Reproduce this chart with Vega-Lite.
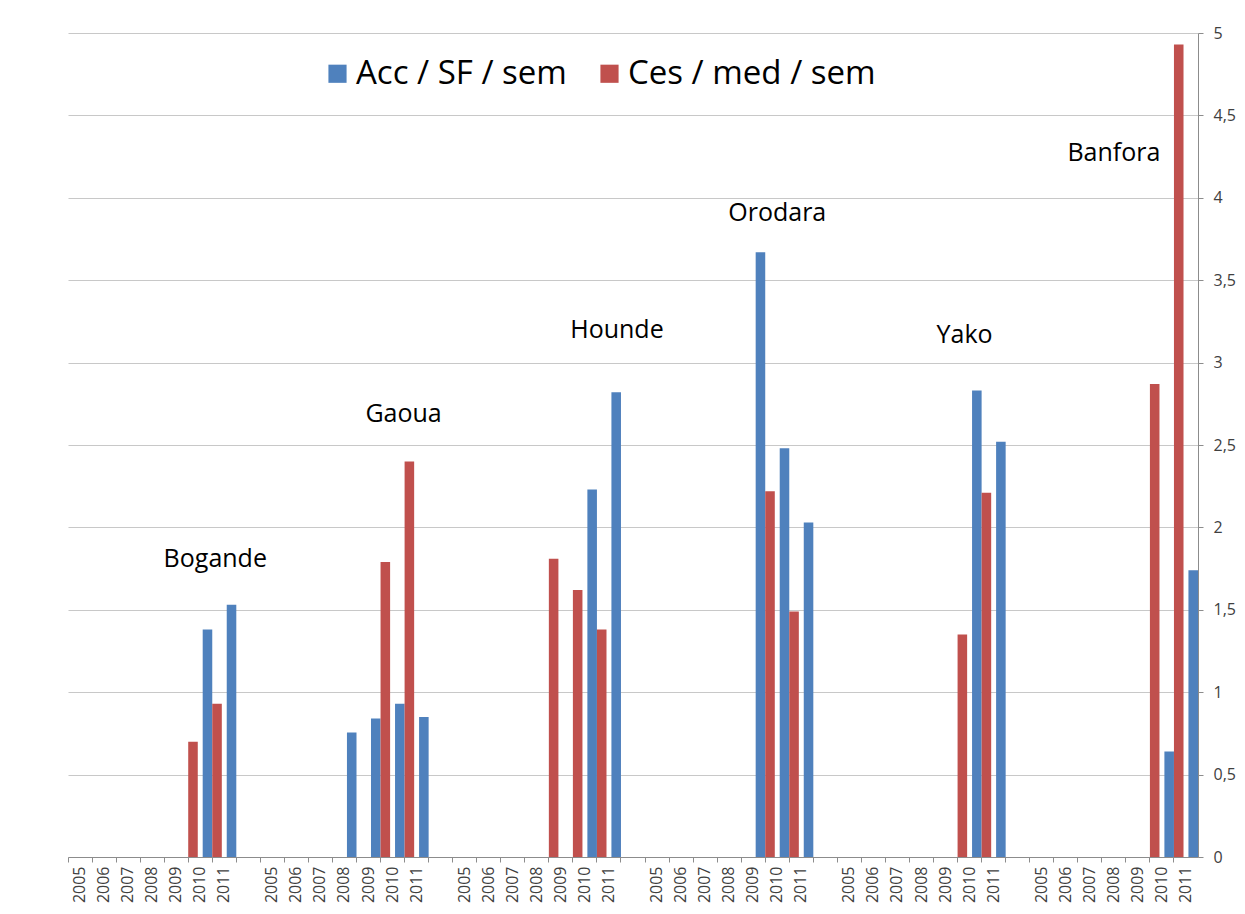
{
  "$schema": "https://vega.github.io/schema/vega-lite/v6.json",
  "width": 1130,
  "height": 824,
  "autosize": {"type": "none"},
  "padding": {"left": 68, "top": 33, "right": 47, "bottom": 57},
  "background": "white",
  "config": {"view": {"stroke": null}, "font": "Open Sans"},
  "datasets": {
    "bars": [
      {"cat": "Bogande 2010", "series": "Ces / med / sem", "value": 0.70},
      {"cat": "Bogande 2010", "series": "Acc / SF / sem", "value": 1.38},
      {"cat": "Bogande 2011", "series": "Ces / med / sem", "value": 0.93},
      {"cat": "Bogande 2011", "series": "Acc / SF / sem", "value": 1.53},
      {"cat": "Gaoua 2008", "series": "Acc / SF / sem", "value": 0.755},
      {"cat": "Gaoua 2009", "series": "Acc / SF / sem", "value": 0.84},
      {"cat": "Gaoua 2010", "series": "Ces / med / sem", "value": 1.79},
      {"cat": "Gaoua 2010", "series": "Acc / SF / sem", "value": 0.93},
      {"cat": "Gaoua 2011", "series": "Ces / med / sem", "value": 2.40},
      {"cat": "Gaoua 2011", "series": "Acc / SF / sem", "value": 0.85},
      {"cat": "Hounde 2009", "series": "Ces / med / sem", "value": 1.81},
      {"cat": "Hounde 2010", "series": "Ces / med / sem", "value": 1.62},
      {"cat": "Hounde 2010", "series": "Acc / SF / sem", "value": 2.23},
      {"cat": "Hounde 2011", "series": "Ces / med / sem", "value": 1.38},
      {"cat": "Hounde 2011", "series": "Acc / SF / sem", "value": 2.82},
      {"cat": "Orodara 2009", "series": "Acc / SF / sem", "value": 3.67},
      {"cat": "Orodara 2010", "series": "Ces / med / sem", "value": 2.22},
      {"cat": "Orodara 2010", "series": "Acc / SF / sem", "value": 2.48},
      {"cat": "Orodara 2011", "series": "Ces / med / sem", "value": 1.49},
      {"cat": "Orodara 2011", "series": "Acc / SF / sem", "value": 2.03},
      {"cat": "Yako 2010", "series": "Ces / med / sem", "value": 1.35},
      {"cat": "Yako 2010", "series": "Acc / SF / sem", "value": 2.83},
      {"cat": "Yako 2011", "series": "Ces / med / sem", "value": 2.21},
      {"cat": "Yako 2011", "series": "Acc / SF / sem", "value": 2.52},
      {"cat": "Banfora 2010", "series": "Ces / med / sem", "value": 2.87},
      {"cat": "Banfora 2010", "series": "Acc / SF / sem", "value": 0.64},
      {"cat": "Banfora 2011", "series": "Ces / med / sem", "value": 4.93},
      {"cat": "Banfora 2011", "series": "Acc / SF / sem", "value": 1.74}
    ],
    "labels": [
      {"site": "Bogande", "cat": "Bogande 2011", "value": 1.81},
      {"site": "Gaoua", "cat": "Gaoua 2010", "value": 2.69},
      {"site": "Hounde", "cat": "Hounde 2011", "value": 3.2},
      {"site": "Orodara", "cat": "Orodara 2010", "value": 3.91},
      {"site": "Yako", "cat": "Yako 2010", "value": 3.17},
      {"site": "Banfora", "cat": "Banfora 2008", "value": 4.27}
    ]
  },
  "layer": [
    {
      "data": {"name": "bars"},
      "mark": {"type": "bar"},
      "encoding": {
        "x": {
          "field": "cat",
          "type": "nominal",
          "scale": {
            "domain": [
              "Bogande 2005", "Bogande 2006", "Bogande 2007", "Bogande 2008", "Bogande 2009", "Bogande 2010", "Bogande 2011",
              "gap1",
              "Gaoua 2005", "Gaoua 2006", "Gaoua 2007", "Gaoua 2008", "Gaoua 2009", "Gaoua 2010", "Gaoua 2011",
              "gap2",
              "Hounde 2005", "Hounde 2006", "Hounde 2007", "Hounde 2008", "Hounde 2009", "Hounde 2010", "Hounde 2011",
              "gap3",
              "Orodara 2005", "Orodara 2006", "Orodara 2007", "Orodara 2008", "Orodara 2009", "Orodara 2010", "Orodara 2011",
              "gap4",
              "Yako 2005", "Yako 2006", "Yako 2007", "Yako 2008", "Yako 2009", "Yako 2010", "Yako 2011",
              "gap5",
              "Banfora 2005", "Banfora 2006", "Banfora 2007", "Banfora 2008", "Banfora 2009", "Banfora 2010", "Banfora 2011"
            ],
            "paddingInner": 0,
            "paddingOuter": 0
          },
          "axis": {
            "title": null,
            "orient": "bottom",
            "grid": false,
            "domainColor": "#8c8c8c",
            "tickColor": "#8c8c8c",
            "tickSize": 5,
            "bandPosition": 0,
            "labelAngle": 270,
            "labelFont": "Open Sans",
            "labelFontSize": 16,
            "labelColor": "#404040",
            "labelPadding": 4,
            "labelOverlap": false,
            "labelBound": false,
            "labelExpr": "indexof(datum.value, 'gap') == 0 ? '' : slice(datum.value, -4)"
          }
        },
        "xOffset": {
          "field": "series",
          "type": "nominal",
          "scale": {"domain": ["Ces / med / sem", "Acc / SF / sem"], "paddingInner": 0.34, "paddingOuter": 0}
        },
        "y": {
          "field": "value",
          "type": "quantitative",
          "scale": {"domain": [0, 5], "nice": false},
          "axis": {
            "title": null,
            "orient": "right",
            "values": [0, 0.5, 1, 1.5, 2, 2.5, 3, 3.5, 4, 4.5, 5],
            "format": ".1~f",
            "grid": true,
            "gridColor": "#c8c8c8",
            "gridWidth": 1.2,
            "domainColor": "#8c8c8c",
            "tickColor": "#8c8c8c",
            "tickSize": 5,
            "labelPadding": 10,
            "labelFont": "Open Sans",
            "labelFontSize": 16,
            "labelColor": "#404040",
            "labelAlign": "left",
            "labelBound": false,
            "labelExpr": "replace(datum.label, '.', ',')"
          }
        },
        "color": {
          "field": "series",
          "type": "nominal",
          "scale": {"domain": ["Acc / SF / sem", "Ces / med / sem"], "range": ["#4F81BD", "#C0504D"]},
          "legend": {
            "title": null,
            "orient": "none",
            "legendX": 253,
            "legendY": 24,
            "direction": "horizontal",
            "symbolType": "square",
            "symbolSize": 330,
            "symbolStrokeWidth": 0,
            "labelFont": "Open Sans",
            "labelFontSize": 33,
            "labelColor": "#000000",
            "labelOffset": 2,
            "columnPadding": 26,
            "labelLimit": 400
          }
        }
      }
    },
    {
      "data": {"name": "labels"},
      "transform": [{"filter": "datum.site == 'Bogande'"}],
      "mark": {"type": "text", "font": "Open Sans", "fontSize": 25, "color": "#000000", "baseline": "middle", "align": "center", "dx": -9},
      "encoding": {"x": {"field": "cat", "type": "nominal"}, "y": {"field": "value", "type": "quantitative"}, "text": {"field": "site"}}
    },
    {
      "data": {"name": "labels"},
      "transform": [{"filter": "datum.site == 'Gaoua'"}],
      "mark": {"type": "text", "font": "Open Sans", "fontSize": 25, "color": "#000000", "baseline": "middle", "align": "center", "dx": 11},
      "encoding": {"x": {"field": "cat", "type": "nominal"}, "y": {"field": "value", "type": "quantitative"}, "text": {"field": "site"}}
    },
    {
      "data": {"name": "labels"},
      "transform": [{"filter": "datum.site == 'Hounde'"}],
      "mark": {"type": "text", "font": "Open Sans", "fontSize": 25, "color": "#000000", "baseline": "middle", "align": "center", "dx": 8},
      "encoding": {"x": {"field": "cat", "type": "nominal"}, "y": {"field": "value", "type": "quantitative"}, "text": {"field": "site"}}
    },
    {
      "data": {"name": "labels"},
      "transform": [{"filter": "datum.site == 'Orodara'"}],
      "mark": {"type": "text", "font": "Open Sans", "fontSize": 25, "color": "#000000", "baseline": "middle", "align": "center", "dx": 0},
      "encoding": {"x": {"field": "cat", "type": "nominal"}, "y": {"field": "value", "type": "quantitative"}, "text": {"field": "site"}}
    },
    {
      "data": {"name": "labels"},
      "transform": [{"filter": "datum.site == 'Yako'"}],
      "mark": {"type": "text", "font": "Open Sans", "fontSize": 25, "color": "#000000", "baseline": "middle", "align": "center", "dx": -5},
      "encoding": {"x": {"field": "cat", "type": "nominal"}, "y": {"field": "value", "type": "quantitative"}, "text": {"field": "site"}}
    },
    {
      "data": {"name": "labels"},
      "transform": [{"filter": "datum.site == 'Banfora'"}],
      "mark": {"type": "text", "font": "Open Sans", "fontSize": 25, "color": "#000000", "baseline": "middle", "align": "center", "dx": 0},
      "encoding": {"x": {"field": "cat", "type": "nominal"}, "y": {"field": "value", "type": "quantitative"}, "text": {"field": "site"}}
    }
  ]
}
